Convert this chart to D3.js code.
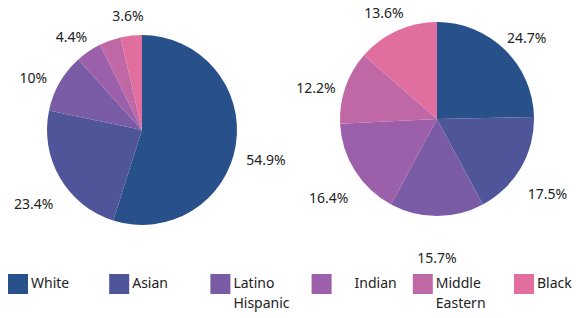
<!DOCTYPE html>
<html lang="en">
<head>
  <meta charset="UTF-8" />
  <title>Population by ethnicity</title>
  <style>
    body { margin: 0; background: #fff; }
    svg { display: block; font-family: "Noto Sans", sans-serif; }
  </style>
</head>
<body>
  <svg id="chart"></svg>

  <script src="https://d3js.org/d3.v7.min.js"></script>
  <script>
    const categories = ["White", "Asian", "Latino Hispanic", "Indian", "Middle Eastern", "Black"];
    const colors = ["#28508a", "#4e5598", "#7a5ba5", "#9c5fa9", "#c067a6", "#e06f9f"];
    // left pie: Middle Eastern label is not shown in the original (estimated value)
    const leftValues = [54.9, 23.4, 10, 4.4, 3.7, 3.6];
    const leftHidden = ["Middle Eastern"];
    const rightValues = [24.7, 17.5, 15.7, 16.4, 12.2, 13.6];
    const rightHidden = [];

    const width = 584, height = 318;
    const svg = d3.select("#chart")
      .attr("width", width)
      .attr("height", height);

    const color = d3.scaleOrdinal().domain(categories).range(colors);

    function drawPie(values, hidden, cx, cy, r) {
      const data = categories.map((c, i) => ({ cat: c, value: values[i] }));
      const pie = d3.pie().sort(null).value(d => d.value);
      const arc = d3.arc().innerRadius(0).outerRadius(r);
      const labelArc = d3.arc().innerRadius(r * 1.32).outerRadius(r * 1.32);

      const g = svg.append("g").attr("transform", `translate(${cx},${cy})`);
      const arcs = pie(data);

      g.selectAll("path")
        .data(arcs)
        .join("path")
        .attr("d", arc)
        .attr("fill", d => color(d.data.cat));

      g.selectAll("text")
        .data(arcs.filter(d => !hidden.includes(d.data.cat)))
        .join("text")
        .attr("x", d => labelArc.centroid(d)[0])
        .attr("y", d => labelArc.centroid(d)[1] + 10)
        .attr("text-anchor", "middle")
        .attr("dominant-baseline", "central")
        .attr("font-size", 14)
        .attr("fill", "#222")
        .text(d => d.data.value + "%");
    }

    drawPie(leftValues, leftHidden, 142, 130, 95);
    drawPie(rightValues, rightHidden, 437, 119, 97);

    // legend
    const legendX = d3.scalePoint().domain(categories).range([8, 514]);
    const legend = svg.append("g").attr("class", "legend");
    const item = legend.selectAll("g")
      .data(categories)
      .join("g")
      .attr("transform", d => `translate(${legendX(d)},274)`);

    item.append("rect")
      .attr("width", 20)
      .attr("height", 20)
      .attr("fill", d => color(d));

    item.append("text")
      .attr("x", d => d === "Indian" ? 64 : 23)
      .attr("y", 9)
      .attr("text-anchor", d => d === "Indian" ? "middle" : "start")
      .attr("font-size", 14)
      .attr("fill", "#222")
      .selectAll("tspan")
      .data(d => d.split(" "))
      .join("tspan")
      .attr("x", function () { return d3.select(this.parentNode).attr("x"); })
      .attr("dy", (d, i) => i === 0 ? "0.35em" : 20)
      .text(d => d);
  </script>
</body>
</html>
